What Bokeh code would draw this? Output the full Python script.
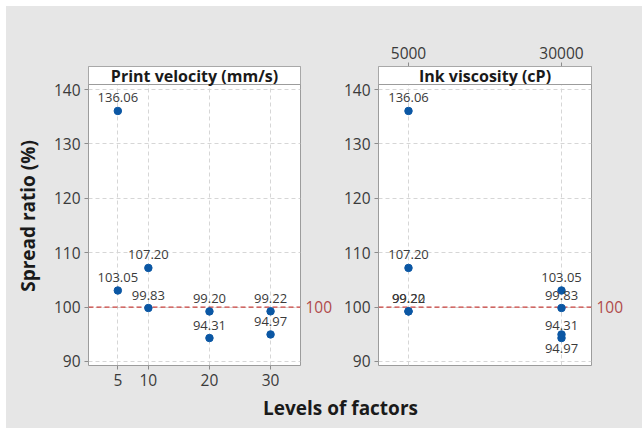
from bokeh.plotting import figure
from bokeh.models import (Range1d, FixedTicker, LinearAxis, Span, BoxAnnotation,
                          Label, ColumnDataSource)
from bokeh.layouts import column, row
from bokeh.embed import file_html
from bokeh.resources import INLINE
from bokeh.core.properties import value

# Spread ratio (%) measured at each level of the two factors
velocity_levels = [5, 5, 10, 10, 20, 20, 30, 30]
velocity_ratio = [136.06, 103.05, 107.20, 99.83, 99.20, 94.31, 99.22, 94.97]

viscosity_levels = [5000, 5000, 5000, 5000, 30000, 30000, 30000, 30000]
viscosity_ratio = [136.06, 107.20, 99.20, 99.22, 103.05, 99.83, 94.31, 94.97]

velocity_ticks = [5, 10, 20, 30]
viscosity_ticks = [5000, 30000]
ratio_ticks = [90, 100, 110, 120, 130, 140]
reference_ratio = 100

panel_titles = ["Print velocity (mm/s)", "Ink viscosity (cP)"]
y_title = "Spread ratio (%)"
x_title = "Levels of factors"

# ---- styling ----
FONT = "Open Sans"
BG = "#e6e6e6"
FRAME = "#9c9c9c"
GRID = "#d6d6d6"
TEXT = "#3a3a3a"
DARK = "#1a1a1a"
BLUE = "#0b57a4"
REF_LINE = "#c8403c"
REF_TEXT = "#b04a4a"

Y_LO, Y_PLOT_HI, Y_HI = 89.26, 140.92, 144.23
PANEL_H = 390


def style_axis(ax):
    ax.axis_line_color = None
    ax.major_tick_line_color = "#8c8c8c"
    ax.major_tick_out = 4
    ax.major_tick_in = 0
    ax.minor_tick_line_color = None
    ax.major_label_text_font = FONT
    ax.major_label_text_font_size = "15.5px"
    ax.major_label_text_color = TEXT
    ax.major_label_standoff = 4


def make_panel(levels, ratios, ticks, x_start, x_end, title, width,
               border_left, border_right, x_side, label_below=()):
    p = figure(width=width, height=PANEL_H, output_backend="svg",
               toolbar_location=None,
               x_range=Range1d(x_start, x_end), y_range=Range1d(Y_LO, Y_HI),
               x_axis_location=x_side, y_axis_location="left",
               min_border_left=border_left, min_border_right=border_right,
               min_border_top=60, min_border_bottom=31,
               background_fill_color="white", border_fill_color=BG,
               outline_line_color=FRAME, outline_line_width=1)

    p.xaxis.ticker = FixedTicker(ticks=ticks)
    p.yaxis.ticker = FixedTicker(ticks=ratio_ticks)
    p.yaxis.bounds = (Y_LO, Y_PLOT_HI)
    for ax in p.xaxis + p.yaxis:
        style_axis(ax)

    for g in p.grid:
        g.grid_line_color = GRID
        g.grid_line_dash = "4 3"
        g.grid_line_width = 1

    # reference line and its value on the right
    span = Span(location=reference_ratio, dimension="width",
                line_color=REF_LINE, line_dash="5 3", line_width=1.2,
                level="underlay")
    p.add_layout(span)
    ref_axis = LinearAxis(ticker=FixedTicker(ticks=[reference_ratio]))
    style_axis(ref_axis)
    ref_axis.major_tick_line_color = None
    ref_axis.major_tick_out = 0
    ref_axis.major_label_standoff = 5
    ref_axis.major_label_text_color = REF_TEXT
    p.add_layout(ref_axis, "right")

    dy = [14 if (lv, r) in label_below else -13 for lv, r in zip(levels, ratios)]
    src = ColumnDataSource(dict(x=levels, y=ratios, dy=dy,
                                txt=["%.2f" % r for r in ratios]))
    p.scatter("x", "y", source=src, size=7.5, color=BLUE, line_color=BLUE)
    p.text("x", "y", text="txt", source=src, y_offset="dy",
           text_align="center", text_baseline="middle",
           text_font=value(FONT), text_font_size="13px", text_color=TEXT)

    # panel header strip
    header = BoxAnnotation(bottom=Y_PLOT_HI, fill_color="white", fill_alpha=1.0,
                           line_color=FRAME, line_alpha=1.0, line_width=1,
                           level="overlay")
    p.add_layout(header)
    p.add_layout(Label(x=(x_start + x_end) / 2, y=(Y_PLOT_HI + Y_HI) / 2,
                       text=title, text_align="center", text_baseline="middle",
                       text_font=FONT, text_font_size="16px",
                       text_font_style="bold", text_color=DARK,
                       level="overlay"))
    return p


left = make_panel(velocity_levels, velocity_ratio, velocity_ticks, 0.2, 34.9,
                  panel_titles[0], 332, 82, 38, "below")
left.yaxis[0].axis_label = y_title
left.yaxis[0].axis_label_text_font = FONT
left.yaxis[0].axis_label_text_font_size = "19px"
left.yaxis[0].axis_label_text_font_style = "bold"
left.yaxis[0].axis_label_text_color = DARK
left.yaxis[0].axis_label_standoff = 10

right = make_panel(viscosity_levels, viscosity_ratio, viscosity_ticks, 100, 34900,
                   panel_titles[1], 304, 40, 51, "above",
                   label_below={(30000, 94.97)})

# shared x-axis title underneath both panels
strip = figure(width=636, height=32, output_backend="svg", toolbar_location=None,
               x_range=Range1d(0, 636), y_range=Range1d(0, 32),
               x_axis_location=None, y_axis_location=None,
               min_border=0, outline_line_color=None,
               background_fill_color=BG, border_fill_color=BG)
strip.grid.visible = False
strip.add_layout(Label(x=334, y=21, text=x_title, text_align="center",
                       text_baseline="middle", text_font=FONT,
                       text_font_size="19px", text_font_style="bold",
                       text_color=DARK))

panels = row(left, right, spacing=0, styles={"background-color": BG})
layout = column(panels, strip, spacing=0, margin=(6, 0, 0, 6),
                styles={"background-color": BG})

open("out.html", "w").write(file_html(layout, INLINE))
